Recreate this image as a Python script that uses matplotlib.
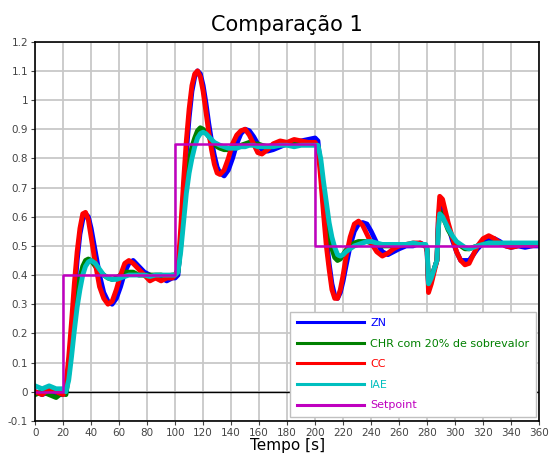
import numpy as np
import matplotlib
matplotlib.use('Agg')
import matplotlib.pyplot as plt
from matplotlib.ticker import FuncFormatter

# tempo [s] - mesmo eixo para todas as respostas
tempo = ([0, 5, 10, 15, 20] +
         [22, 24, 26, 28, 30, 32, 34, 36, 38, 40, 43, 46, 49, 52, 55, 58, 61, 64, 67, 70,
          74, 78, 82, 86, 90, 94, 98, 100] +
         [102, 104, 106, 108, 110, 112, 114, 116, 118, 120, 122, 124, 126, 128, 130, 132,
          135, 138, 141, 144, 147, 150, 153, 156, 159, 162, 166, 170, 175, 180, 185, 190, 195, 200] +
         [202, 204, 206, 208, 210, 212, 214, 216, 218, 220, 222, 225, 228, 231, 234, 237, 240,
          244, 248, 252, 256, 260, 265, 270, 275, 279] +
         [280, 281, 283, 285, 287, 288, 289, 291, 293, 295, 298, 301, 304, 307, 310, 313, 316,
          320, 324, 328, 332, 336, 340, 345, 350, 355, 360])

zn = ([0.00, -0.01, 0.00, -0.01, -0.01] +
      [0.00, 0.09, 0.20, 0.33, 0.45, 0.54, 0.59, 0.61, 0.60, 0.56, 0.48, 0.40, 0.34, 0.31, 0.30,
       0.32, 0.36, 0.41, 0.44, 0.45, 0.43, 0.41, 0.40, 0.39, 0.39, 0.38, 0.39, 0.39] +
      [0.40, 0.52, 0.68, 0.82, 0.94, 1.03, 1.08, 1.10, 1.09, 1.05, 0.99, 0.92, 0.86, 0.81, 0.77,
       0.75, 0.74, 0.76, 0.80, 0.85, 0.885, 0.90, 0.895, 0.875, 0.85, 0.83, 0.825, 0.83, 0.84,
       0.85, 0.855, 0.86, 0.865, 0.87] +
      [0.86, 0.76, 0.64, 0.53, 0.44, 0.37, 0.33, 0.32, 0.34, 0.38, 0.43, 0.50, 0.55, 0.575, 0.58,
       0.575, 0.55, 0.51, 0.48, 0.47, 0.48, 0.49, 0.50, 0.50, 0.51, 0.50] +
      [0.48, 0.36, 0.38, 0.42, 0.45, 0.58, 0.64, 0.63, 0.60, 0.57, 0.52, 0.48, 0.45, 0.45, 0.45,
       0.47, 0.49, 0.51, 0.525, 0.525, 0.515, 0.50, 0.495, 0.50, 0.495, 0.50, 0.50])

chr20 = ([-0.01, 0.00, -0.01, -0.02, 0.00] +
         [-0.01, 0.06, 0.15, 0.25, 0.33, 0.39, 0.43, 0.45, 0.455, 0.45, 0.43, 0.41, 0.40, 0.39,
          0.385, 0.39, 0.40, 0.41, 0.41, 0.41, 0.40, 0.40, 0.40, 0.40, 0.40, 0.395, 0.40, 0.40] +
         [0.41, 0.50, 0.62, 0.72, 0.79, 0.84, 0.87, 0.895, 0.905, 0.90, 0.89, 0.875, 0.86, 0.85,
          0.84, 0.835, 0.83, 0.83, 0.835, 0.84, 0.845, 0.85, 0.855, 0.85, 0.85, 0.845, 0.84, 0.845,
          0.85, 0.85, 0.85, 0.85, 0.85, 0.85] +
         [0.84, 0.78, 0.69, 0.61, 0.54, 0.49, 0.46, 0.45, 0.455, 0.47, 0.485, 0.50, 0.51, 0.515,
          0.515, 0.515, 0.51, 0.505, 0.50, 0.50, 0.50, 0.50, 0.505, 0.505, 0.505, 0.50] +
         [0.49, 0.37, 0.39, 0.42, 0.45, 0.56, 0.62, 0.60, 0.58, 0.555, 0.53, 0.51, 0.50, 0.49, 0.49,
          0.495, 0.50, 0.505, 0.51, 0.51, 0.51, 0.505, 0.505, 0.505, 0.505, 0.505, 0.505])

cc = ([0.00, -0.01, 0.01, 0.00, -0.01] +
      [0.02, 0.12, 0.24, 0.37, 0.48, 0.56, 0.61, 0.615, 0.59, 0.53, 0.44, 0.36, 0.32, 0.30, 0.31,
       0.35, 0.40, 0.44, 0.45, 0.44, 0.42, 0.40, 0.38, 0.39, 0.38, 0.39, 0.39, 0.40] +
      [0.42, 0.56, 0.72, 0.86, 0.97, 1.05, 1.09, 1.10, 1.08, 1.03, 0.96, 0.89, 0.83, 0.78, 0.75,
       0.745, 0.76, 0.80, 0.85, 0.88, 0.895, 0.90, 0.88, 0.85, 0.82, 0.815, 0.83, 0.85, 0.86,
       0.855, 0.865, 0.86, 0.855, 0.855] +
      [0.84, 0.73, 0.61, 0.50, 0.42, 0.35, 0.32, 0.32, 0.35, 0.40, 0.46, 0.53, 0.575, 0.585, 0.57,
       0.54, 0.51, 0.48, 0.465, 0.475, 0.49, 0.50, 0.505, 0.51, 0.51, 0.50] +
      [0.48, 0.34, 0.37, 0.41, 0.45, 0.60, 0.67, 0.66, 0.62, 0.58, 0.53, 0.48, 0.45, 0.435, 0.44,
       0.47, 0.50, 0.525, 0.535, 0.525, 0.51, 0.50, 0.495, 0.50, 0.505, 0.50, 0.51])

iae = ([0.02, 0.01, 0.02, 0.01, 0.01] +
       [0.00, 0.04, 0.12, 0.21, 0.29, 0.35, 0.40, 0.43, 0.445, 0.45, 0.44, 0.42, 0.40, 0.39, 0.385,
        0.385, 0.39, 0.395, 0.40, 0.40, 0.40, 0.40, 0.395, 0.40, 0.40, 0.40, 0.40, 0.40] +
       [0.41, 0.48, 0.58, 0.68, 0.75, 0.80, 0.84, 0.87, 0.885, 0.89, 0.885, 0.875, 0.865, 0.855,
        0.85, 0.845, 0.84, 0.835, 0.835, 0.835, 0.84, 0.84, 0.845, 0.845, 0.84, 0.84, 0.84, 0.84,
        0.845, 0.845, 0.84, 0.845, 0.845, 0.845] +
       [0.845, 0.80, 0.72, 0.65, 0.58, 0.53, 0.495, 0.47, 0.465, 0.47, 0.48, 0.49, 0.50, 0.505,
        0.51, 0.515, 0.515, 0.51, 0.505, 0.505, 0.505, 0.505, 0.505, 0.51, 0.505, 0.505] +
       [0.49, 0.37, 0.39, 0.42, 0.45, 0.56, 0.61, 0.60, 0.58, 0.56, 0.535, 0.515, 0.505, 0.495,
        0.49, 0.495, 0.50, 0.505, 0.51, 0.51, 0.51, 0.51, 0.51, 0.51, 0.51, 0.51, 0.51])

sp_t = [0, 20, 100, 200, 360]
sp_v = [0, 0.4, 0.85, 0.5, 0.5]

series = [
    ('ZN', zn, '#0000ff'),
    ('CHR com 20% de sobrevalor', chr20, '#008000'),
    ('CC', cc, '#ff0000'),
    ('IAE', iae, '#00bfbf'),
]

fig = plt.figure(figsize=(5.49, 4.54), dpi=100)
ax = fig.add_axes([0.064, 0.073, 0.918, 0.835])

for nome, y, cor in series:
    ax.plot(tempo, y, color=cor, lw=3.5, label=nome, solid_joinstyle='round')
ax.plot(sp_t, sp_v, color='#bf00bf', lw=1.8, drawstyle='steps-post', label='Setpoint')
ax.axhline(0, color='black', lw=1, zorder=1)

ax.set_xlim(0, 360)
ax.set_ylim(-0.1, 1.2)
ax.set_xticks(np.arange(0, 361, 20))
ax.set_yticks(np.round(np.arange(-0.1, 1.21, 0.1), 1))
ax.yaxis.set_major_formatter(FuncFormatter(lambda v, p: f'{v:g}'))
ax.grid(True, color='#c8c8c8', lw=1.3)
ax.set_axisbelow(True)
ax.tick_params(labelsize=7.5, colors='#444444', length=3, pad=2)
for s in ax.spines.values():
    s.set_linewidth(1.2)

ax.set_title('Comparação 1', fontsize=15, pad=8)
ax.set_xlabel('Tempo [s]', fontsize=11, labelpad=0)

leg = ax.legend(loc='lower right', bbox_to_anchor=(0.994, 0.01), borderaxespad=0,
                fontsize=8, handlelength=6, handletextpad=0.6, labelspacing=0.95,
                fancybox=False, edgecolor='#c0c0c0', framealpha=1, borderpad=0.6)
for txt, line in zip(leg.get_texts(), leg.get_lines()):
    txt.set_color(line.get_color())
    line.set_linewidth(2.2)

fig.savefig('out.png', dpi=100)
